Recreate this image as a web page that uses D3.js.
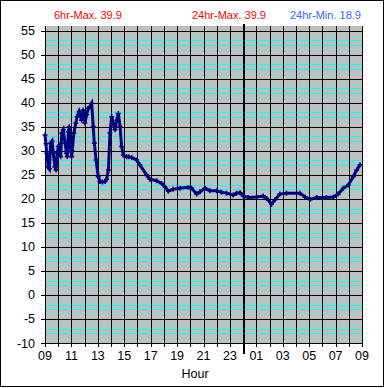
<!DOCTYPE html>
<html>
<head>
<meta charset="utf-8">
<script src="https://cdn.jsdelivr.net/npm/d3@7"></script>
<style>
  body { margin: 0; background: #fff; }
  svg { display: block; font-family: "Liberation Sans", Arial, sans-serif; }
</style>
</head>
<body>
<div id="chart"></div>
<script>
// minutes after 09:00 and temperature
var minutes = [0, 4, 8, 15, 20, 26, 32, 38, 45, 50, 56, 61, 68, 71, 76, 83, 91, 98, 101, 106,
    110, 114, 121, 124, 131, 140, 146, 155, 166, 173, 181, 189, 197, 204, 212, 219, 224, 232, 242, 250,
    261, 273, 280, 288, 295, 303, 310, 318, 326, 333, 341, 348, 356, 371, 380, 394, 416, 431, 461, 476,
    507, 530, 545, 560, 582, 613, 651, 666, 689, 704, 727, 749, 780, 802, 825, 855, 870, 886, 901, 923,
    961, 991, 1007, 1029, 1044, 1067, 1097, 1158, 1181, 1204, 1234, 1279, 1310, 1332, 1355, 1378, 1400, 1416, 1431]
var temps = [33.3, 31.5, 29.5, 26.7, 26.3, 31.6, 32.0, 29.5, 26.7, 26.0, 29.5, 30.9, 31.3, 28.8, 33.7, 34.4, 31.6, 29.5, 28.8, 34.0,
    35.0, 31.5, 28.8, 30.0, 33.7, 35.8, 37.1, 38.2, 36.4, 38.5, 35.8, 37.5, 38.9, 39.2, 39.9, 35.1, 31.6, 28.1, 24.6, 23.6,
    23.5, 23.6, 24.1, 26.0, 33.7, 37.1, 35.8, 34.4, 36.4, 37.8, 35.1, 30.9, 29.1, 28.8, 28.8, 28.6, 28.1, 27.1, 25.0, 24.1,
    23.8, 23.2, 22.5, 21.6, 22.0, 22.2, 22.4, 22.2, 21.0, 21.5, 22.2, 21.7, 21.7, 21.4, 21.2, 20.8, 21.2, 21.3, 20.6, 20.3,
    20.4, 20.6, 20.1, 18.9, 19.8, 21.0, 21.2, 21.2, 20.4, 19.9, 20.3, 20.3, 20.4, 21.0, 22.2, 22.9, 24.6, 26.0, 27.1]

var hourLabels = ["09", "11", "13", "15", "17", "19", "21", "23", "01", "03", "05", "07", "09"]
var yTicks = [-10, -5, 0, 5, 10, 15, 20, 25, 30, 35, 40, 45, 50, 55]
var headers = [
    { text: "6hr-Max. 39.9", color: "#ff0000", x: 54 },
    { text: "24hr-Max. 39.9", color: "#ff0000", x: 192 },
    { text: "24hr-Min. 18.9", color: "#3366ff", x: 290 }
]

var W = 385, H = 388
var svg = d3.select("#chart").append("svg")
    .attr("width", W)
    .attr("height", H)

svg.append("rect")
    .attr("x", 0.5).attr("y", 0.5)
    .attr("width", 383).attr("height", 386)
    .attr("fill", "#fff")
    .attr("stroke", "#000")

var x = d3.scaleLinear().domain([0, 1440]).range([45, 362])
var y = d3.scaleLinear().domain([-10, 56]).range([343, 26])

// plot background
svg.append("rect")
    .attr("x", x(0)).attr("y", y(56))
    .attr("width", x(1440) - x(0)).attr("height", y(-10) - y(56))
    .attr("fill", "#c0c0c0")

// minor horizontal lines every 1 degree
var minor = d3.range(-10, 56).filter(function (v) { return v % 5 != 0 })
svg.append("g").selectAll("line")
    .data(minor)
    .enter()
    .append("line")
    .attr("x1", x(0)).attr("x2", x(1440))
    .attr("y1", function (d) { return Math.round(y(d)) + 0.5 })
    .attr("y2", function (d) { return Math.round(y(d)) + 0.5 })
    .attr("stroke", function (d) {
        var r = ((d % 5) + 5) % 5
        return (r == 2 || r == 3) ? "#00ffff" : "#80dede"
    })
    .attr("shape-rendering", "crispEdges")

// major horizontal lines
svg.append("g").selectAll("line")
    .data(yTicks)
    .enter()
    .append("line")
    .attr("x1", x(0) - 4).attr("x2", x(1440))
    .attr("y1", function (d) { return Math.round(y(d)) + 0.5 })
    .attr("y2", function (d) { return Math.round(y(d)) + 0.5 })
    .attr("stroke", "#000")
    .attr("shape-rendering", "crispEdges")

// vertical hour lines with ticks below
svg.append("g").selectAll("line")
    .data(d3.range(0, 25))
    .enter()
    .append("line")
    .attr("x1", function (d) { return Math.round(x(d * 60)) + 0.5 })
    .attr("x2", function (d) { return Math.round(x(d * 60)) + 0.5 })
    .attr("y1", y(56)).attr("y2", y(-10) + 4)
    .attr("stroke", "#000")
    .attr("shape-rendering", "crispEdges")

// midnight marker
svg.append("line")
    .attr("x1", Math.round(x(900)) + 1).attr("x2", Math.round(x(900)) + 1)
    .attr("y1", 24).attr("y2", 354)
    .attr("stroke", "#000")
    .attr("stroke-width", 2)
    .attr("shape-rendering", "crispEdges")

// y labels
svg.append("g").selectAll("text")
    .data(yTicks)
    .enter()
    .append("text")
    .attr("x", 35)
    .attr("y", function (d) { return y(d) + 4.5 })
    .attr("text-anchor", "end")
    .style("font-size", "12.5px")
    .text(function (d) { return d })

// x labels
svg.append("g").selectAll("text")
    .data(hourLabels)
    .enter()
    .append("text")
    .attr("x", function (d, i) { return x(i * 120) })
    .attr("y", 360)
    .attr("text-anchor", "middle")
    .style("font-size", "12.5px")
    .text(function (d) { return d })

svg.append("text")
    .attr("x", 195).attr("y", 378)
    .attr("text-anchor", "middle")
    .style("font-size", "12.5px")
    .text("Hour")

svg.selectAll(".hdr")
    .data(headers)
    .enter()
    .append("text")
    .attr("class", "hdr")
    .attr("x", function (d) { return d.x })
    .attr("y", 18.5)
    .attr("fill", function (d) { return d.color })
    .style("font-size", "11px")
    .text(function (d) { return d.text })

// temperature trace
var pts = minutes.map(function (m, i) { return [m, temps[i]] })
var line = d3.line()
    .x(function (d) { return x(d[0]) })
    .y(function (d) { return y(d[1]) })

svg.append("path")
    .datum(pts)
    .attr("d", line)
    .attr("fill", "none")
    .attr("stroke", "#000080")
    .attr("stroke-width", 3)

svg.append("g").selectAll("path")
    .data(pts)
    .enter()
    .append("path")
    .attr("d", function (d) {
        var cx = x(d[0]), cy = y(d[1])
        return "M" + (cx - 2.5) + "," + cy + "H" + (cx + 2.5) + "M" + cx + "," + (cy - 2.5) + "V" + (cy + 2.5)
    })
    .attr("stroke", "#000080")
    .attr("stroke-width", 1.5)
</script>
</body>
</html>
